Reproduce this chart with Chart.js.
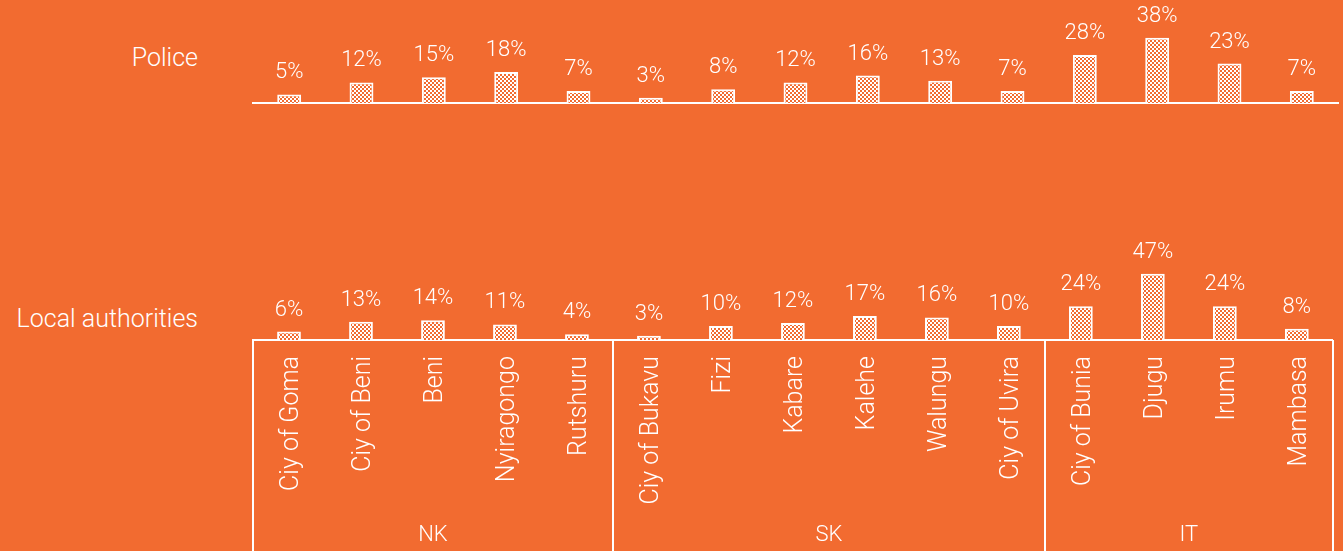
<!DOCTYPE html>
<html lang="en">
<head>
  <meta charset="UTF-8">
  <title>Police and local authorities by territory</title>
  <script src="https://cdn.jsdelivr.net/npm/chart.js"></script>
  <style>
    body {
      margin: 0;
      background: #f26b30;
      width: 1343px;
      height: 551px;
      overflow: hidden;
      position: relative;
      font-family: Roboto, sans-serif;
      font-weight: 300;
      color: #fff;
    }
    canvas { position: absolute; left: 0; }
    #policeChart { top: 0; }
    #localChart { top: 120px; }
    .rowLabel {
      position: absolute;
      right: 1145px;
      font-size: 25px;
      line-height: 30px;
      white-space: nowrap;
    }
  </style>
</head>
<body>
  <div class="rowLabel" style="top:43px">Police</div>
  <div class="rowLabel" style="top:304px">Local authorities</div>
  <canvas id="policeChart" width="1343" height="110"></canvas>
  <canvas id="localChart" width="1343" height="431"></canvas>

  <script>
    const categories = ["Ciy of Goma", "Ciy of Beni", "Beni", "Nyiragongo", "Rutshuru",
      "Ciy of Bukavu", "Fizi", "Kabare", "Kalehe", "Walungu", "Ciy of Uvira",
      "Ciy of Bunia", "Djugu", "Irumu", "Mambasa"];
    const police = [5, 12, 15, 18, 7, 3, 8, 12, 16, 13, 7, 28, 38, 23, 7];
    const localAuthorities = [6, 13, 14, 11, 4, 3, 10, 12, 17, 16, 10, 24, 47, 24, 8];
    // provinces and how many categories each one covers
    const groups = ["NK", "SK", "IT"];
    const groupSizes = [5, 6, 4];

    const orange = '#f26b30';
    const fontFamily = 'Roboto, sans-serif';

    // small checkerboard fill like the original bars
    function makePattern() {
      const c = document.createElement('canvas');
      c.width = 4; c.height = 4;
      const g = c.getContext('2d');
      g.fillStyle = orange;
      g.fillRect(0, 0, 4, 4);
      g.fillStyle = '#ffffff';
      g.fillRect(0, 0, 2, 2);
      g.fillRect(2, 2, 2, 2);
      return g.createPattern(c, 'repeat');
    }

    // percent labels above each bar
    const valueLabels = {
      id: 'valueLabels',
      afterDatasetsDraw(chart) {
        const ctx = chart.ctx;
        const ds = chart.data.datasets[0];
        ctx.save();
        ctx.fillStyle = '#fff';
        ctx.font = '300 22px ' + fontFamily;
        ctx.textAlign = 'center';
        ctx.textBaseline = 'alphabetic';
        chart.getDatasetMeta(0).data.forEach((bar, i) => {
          ctx.fillText(ds.data[i] + '%', bar.x, bar.y - 16);
        });
        ctx.restore();
      }
    };

    // province boxes under the category labels
    const groupBoxes = {
      id: 'groupBoxes',
      afterDraw(chart) {
        const ctx = chart.ctx;
        const x = chart.scales.x;
        const area = chart.chartArea;
        const bottom = chart.height;
        let edges = [area.left];
        let idx = 0;
        groupSizes.forEach(n => {
          idx += n;
          if (idx < categories.length) {
            edges.push((x.getPixelForTick(idx - 1) + x.getPixelForTick(idx)) / 2);
          } else {
            edges.push(area.right);
          }
        });
        ctx.save();
        ctx.strokeStyle = '#fff';
        ctx.lineWidth = 2;
        edges.forEach(e => {
          ctx.beginPath();
          ctx.moveTo(Math.round(e), area.bottom);
          ctx.lineTo(Math.round(e), bottom);
          ctx.stroke();
        });
        ctx.fillStyle = '#fff';
        ctx.font = '300 22px ' + fontFamily;
        ctx.textAlign = 'center';
        ctx.textBaseline = 'middle';
        groups.forEach((g, i) => {
          ctx.fillText(g, (edges[i] + edges[i + 1]) / 2, bottom - 16);
        });
        ctx.restore();
      }
    };

    const pattern = makePattern();

    function barDataset(values) {
      return {
        data: values,
        backgroundColor: pattern,
        borderColor: '#fff',
        borderWidth: 2,
        barPercentage: 0.33,
        categoryPercentage: 1
      };
    }

    new Chart(document.getElementById('policeChart'), {
      type: 'bar',
      data: { labels: categories, datasets: [barDataset(police)] },
      plugins: [valueLabels],
      options: {
        responsive: false,
        animation: false,
        layout: { padding: { left: 253, right: 5, top: 0, bottom: 0 } },
        plugins: { legend: { display: false }, tooltip: { enabled: false } },
        scales: {
          x: {
            grid: { display: false, drawTicks: false },
            ticks: { display: false },
            border: { display: true, color: '#fff', width: 2 },
            afterFit: s => { s.height = 7; }
          },
          y: { display: false, min: 0, max: 60 }
        }
      }
    });

    new Chart(document.getElementById('localChart'), {
      type: 'bar',
      data: { labels: categories, datasets: [barDataset(localAuthorities)] },
      plugins: [valueLabels, groupBoxes],
      options: {
        responsive: false,
        animation: false,
        layout: { padding: { left: 253, right: 5, top: 79, bottom: 0 } },
        plugins: { legend: { display: false }, tooltip: { enabled: false } },
        scales: {
          x: {
            grid: { display: false, drawTicks: false },
            ticks: {
              color: '#fff',
              font: { family: fontFamily, size: 25, weight: '300' },
              minRotation: 90,
              maxRotation: 90,
              autoSkip: false,
              labelOffset: 3,
              padding: 16
            },
            border: { display: true, color: '#fff', width: 2 },
            afterFit: s => { s.height = 211; }
          },
          y: { display: false, min: 0, max: 100 }
        }
      }
    });
  </script>
</body>
</html>
